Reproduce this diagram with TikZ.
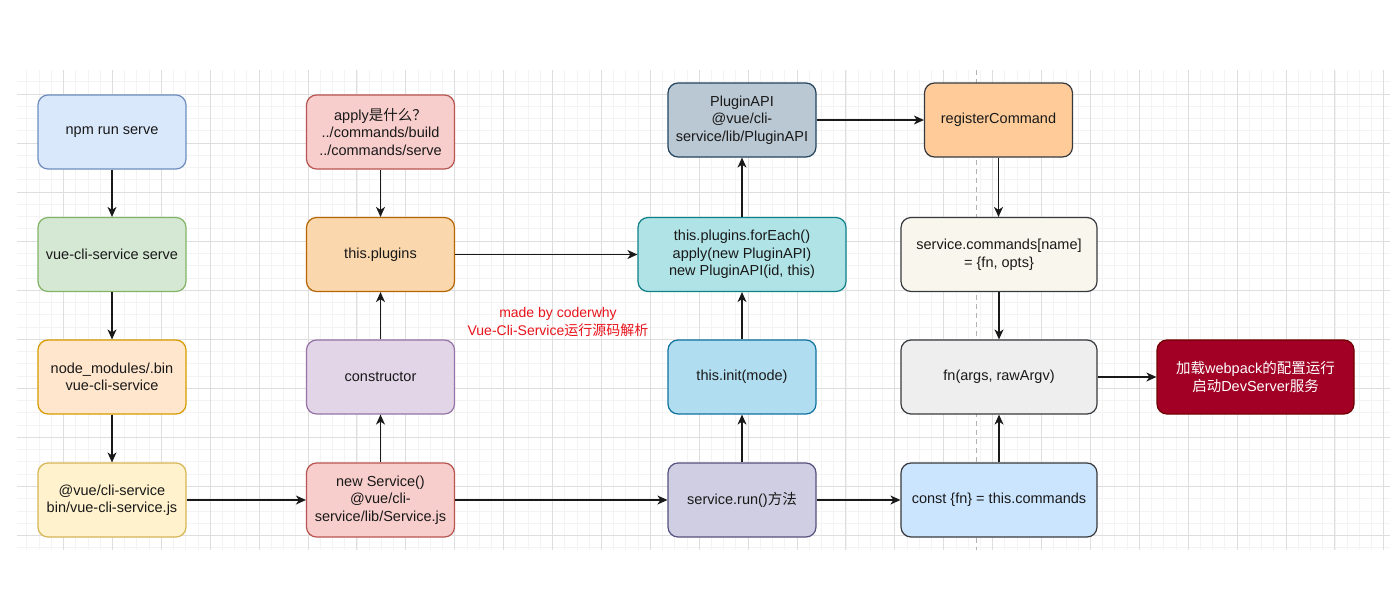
\documentclass[tikz,border=0pt]{standalone}
\usepackage{fontspec}
\setmainfont{Liberation Sans}
\newfontfamily\cjk{Noto Sans CJK SC}
\usetikzlibrary{arrows.meta}
\definecolor{gminor}{HTML}{F3F3F3}
\definecolor{gmajor}{HTML}{DEDEDE}
\definecolor{fBlue}{HTML}{DAE8FC}\definecolor{sBlue}{HTML}{6C8EBF}
\definecolor{fGreen}{HTML}{D5E8D4}\definecolor{sGreen}{HTML}{82B366}
\definecolor{fOrange}{HTML}{FFE6CC}\definecolor{sOrange}{HTML}{D79B00}
\definecolor{fYellow}{HTML}{FFF2CC}\definecolor{sYellow}{HTML}{D6B656}
\definecolor{fRed}{HTML}{F8CECC}\definecolor{sRed}{HTML}{B85450}
\definecolor{fPlug}{HTML}{FAD7AC}\definecolor{sPlug}{HTML}{B46504}
\definecolor{fPurple}{HTML}{E1D5E7}\definecolor{sPurple}{HTML}{9673A6}
\definecolor{fSlate}{HTML}{BAC8D3}\definecolor{sSlate}{HTML}{23445D}
\definecolor{fTeal}{HTML}{B0E3E6}\definecolor{sTeal}{HTML}{0E8088}
\definecolor{fSky}{HTML}{B1DDF0}\definecolor{sSky}{HTML}{10739E}
\definecolor{fLav}{HTML}{D0CEE2}\definecolor{sLav}{HTML}{56517E}
\definecolor{fPeach}{HTML}{FFCC99}\definecolor{sDark}{HTML}{36393D}
\definecolor{fCream}{HTML}{F9F7ED}
\definecolor{fGray}{HTML}{EEEEEE}
\definecolor{fIce}{HTML}{CCE5FF}
\definecolor{fCrimson}{HTML}{A20025}\definecolor{sCrimson}{HTML}{6F0000}
\definecolor{noteRed}{HTML}{E8141B}
\begin{document}
\begin{tikzpicture}[x=1pt,y=-1pt,
  box/.style={draw, rounded corners=10pt, line width=1.2pt, minimum width=148pt, minimum height=74pt,
    align=center, inner sep=2pt, text=black!90, font=\fontsize{14.5}{17.5}\selectfont},
  arr/.style={line width=1.3pt, draw=black!90, -{Stealth[length=10pt,width=9pt,inset=3pt]}},
  minorline/.style={draw=gminor, line width=0.8pt},
  majorline/.style={draw=gmajor, line width=0.9pt}]
\useasboundingbox (0,0) rectangle (1394,608);
\fill[white] (0,0) rectangle (1394,608);
% grid
\foreach \k [evaluate=\k as \xx using 63.5+12.225*\k] in {-3,...,108} {\draw[minorline] (\xx,70) -- (\xx,550);}
\foreach \k [evaluate=\k as \yy using 94+12.2625*\k] in {-1,...,37} {\draw[minorline] (17,\yy) -- (1390,\yy);}
\foreach \k [evaluate=\k as \xx using 63.5+48.9*\k] in {0,...,27} {\draw[majorline] (\xx,70) -- (\xx,550);}
\foreach \k [evaluate=\k as \yy using 94+49.05*\k] in {0,...,9} {\draw[majorline] (17,\yy) -- (1390,\yy);}
\draw[gray!60, line width=0.9pt, dash pattern=on 5pt off 4pt] (976.7,70) -- (976.7,550);
% nodes column 1
\node[box, fill=fBlue, draw=sBlue] (npm) at (112,132) {npm run serve};
\node[box, fill=fGreen, draw=sGreen] (vcs) at (112,254.5) {vue-cli-service serve};
\node[box, fill=fOrange, draw=sOrange] (nm) at (112,377) {node\_modules/.bin\\vue-cli-service};
\node[box, fill=fYellow, draw=sYellow] (vue) at (112,500) {@vue/cli-service\\bin/vue-cli-service.js};
% column 2
\node[box, fill=fRed, draw=sRed] (apply) at (380.5,132) {apply{\cjk 是什么？}\\../commands/build\\../commands/serve};
\node[box, fill=fPlug, draw=sPlug] (plugins) at (380.5,254.5) {this.plugins};
\node[box, fill=fPurple, draw=sPurple] (ctor) at (380.5,377) {constructor};
\node[box, fill=fRed, draw=sRed] (newsvc) at (380.5,500) {new Service()\\@vue/cli-\\service/lib/Service.js};
% column 3
\node[box, fill=fSlate, draw=sSlate] (papi) at (742,120) {PluginAPI\\@vue/cli-\\service/lib/PluginAPI};
\node[box, minimum width=208pt, fill=fTeal, draw=sTeal] (foreach) at (742,254.5) {this.plugins.forEach()\\apply(new PluginAPI)\\new PluginAPI(id, this)};
\node[box, fill=fSky, draw=sSky] (init) at (742,377) {this.init(mode)};
\node[box, fill=fLav, draw=sLav] (run) at (742,500) {service.run(){\cjk 方法}};
% column 4
\node[box, fill=fPeach, draw=sDark] (reg) at (998.5,120) {registerCommand};
\node[box, minimum width=196pt, fill=fCream, draw=sDark] (cmds) at (999,254.5) {service.commands[name]\\= \{fn, opts\}};
\node[box, minimum width=196pt, fill=fGray, draw=sDark] (fn) at (999,377) {fn(args, rawArgv)};
\node[box, minimum width=196pt, fill=fIce, draw=sDark] (const) at (999,500) {const \{fn\} = this.commands};
\node[box, minimum width=197pt, fill=fCrimson, draw=sCrimson, text=white] (load) at (1255.5,377) {{\cjk 加载}webpack{\cjk 的配置运行}\\{\cjk 启动}DevServer{\cjk 服务}};
% note
\node[align=center, text=noteRed, font=\fontsize{14}{17.3}\selectfont] (note) at (558,322) {made by coderwhy\\Vue-Cli-Service{\cjk 运行源码解析}};
% arrows
\draw[arr] (npm) -- (vcs);
\draw[arr] (vcs) -- (nm);
\draw[arr] (nm) -- (vue);
\draw[arr] (vue) -- (newsvc);
\draw[arr] (newsvc) -- (ctor);
\draw[arr] (ctor) -- (plugins);
\draw[arr] (apply) -- (plugins);
\draw[arr] (plugins) -- (foreach);
\draw[arr] (newsvc) -- (run);
\draw[arr] (run) -- (init);
\draw[arr] (init) -- (foreach);
\draw[arr] (foreach) -- (papi);
\draw[arr] (papi) -- (reg);
\draw[arr] (reg.south) -- (reg.south |- cmds.north);
\draw[arr] (cmds) -- (fn);
\draw[arr] (run) -- (const);
\draw[arr] (const) -- (fn);
\draw[arr] (fn) -- (load);
\end{tikzpicture}
\end{document}
